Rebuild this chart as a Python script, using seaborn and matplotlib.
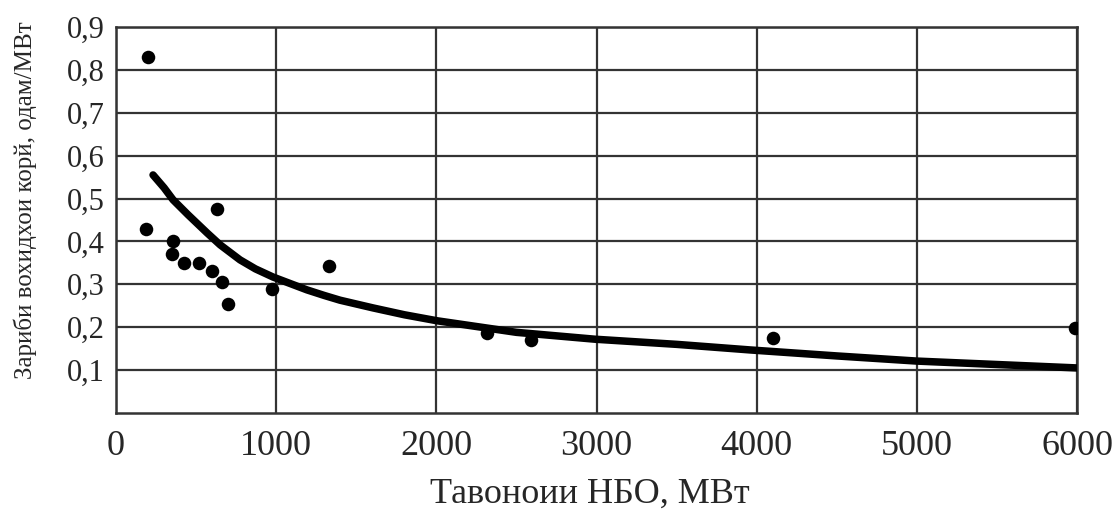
import matplotlib
matplotlib.use("Agg")
import matplotlib.pyplot as plt
import seaborn as sns
from matplotlib.ticker import FuncFormatter

# measured points
power_mw = [200, 187, 356, 350, 424, 518, 599, 662, 630, 699, 974, 1330, 2316, 2590, 4101, 5986]
staff_ratio = [0.83, 0.43, 0.40, 0.37, 0.35, 0.35, 0.33, 0.305, 0.475, 0.255, 0.29, 0.343, 0.186, 0.17, 0.175, 0.197]

# trend curve
trend_x = [231, 300, 356, 450, 568, 650, 774, 870, 980, 1100, 1192, 1300, 1398, 1604, 1800,
           2004, 2500, 2990, 3500, 3958, 4500, 5000, 5500, 6000]
trend_y = [0.555, 0.525, 0.497, 0.462, 0.42, 0.392, 0.357, 0.336, 0.317, 0.300, 0.287, 0.274,
           0.263, 0.245, 0.229, 0.215, 0.188, 0.172, 0.16, 0.147, 0.133, 0.121, 0.113, 0.105]

x_ticks = [0, 1000, 2000, 3000, 4000, 5000, 6000]
y_ticks = [0.1, 0.2, 0.3, 0.4, 0.5, 0.6, 0.7, 0.8, 0.9]

sns.set_style("white")
plt.rcParams["font.family"] = ["Liberation Serif", "DejaVu Serif"]

fig = plt.figure(figsize=(11.18, 5.12), dpi=100)
ax = fig.add_axes([0.1038, 0.1934, 0.8596, 0.7539])

sns.lineplot(x=trend_x, y=trend_y, ax=ax, color="black", linewidth=5.4,
             sort=False, estimator=None, zorder=3, solid_capstyle="round",
             solid_joinstyle="round")
sns.scatterplot(x=power_mw, y=staff_ratio, ax=ax, color="black", s=95,
                edgecolor="black", linewidth=0, zorder=4)

ax.set_xlim(0, 6000)
ax.set_ylim(0, 0.9)
ax.set_xticks(x_ticks)
ax.set_yticks(y_ticks)
ax.yaxis.set_major_formatter(FuncFormatter(lambda v, p: f"{v:.1f}".replace(".", ",")))

ax.grid(True, color="#333333", linewidth=1.6)
ax.set_axisbelow(True)
for sp in ax.spines.values():
    sp.set_color("#333333")
    sp.set_linewidth(1.8)

ax.tick_params(axis="x", length=0, pad=12, labelsize=26)
ax.tick_params(axis="y", length=0, pad=8, labelsize=22)

ax.set_xlabel("Тавоноии НБО, МВт", fontsize=26)
ax.set_ylabel("Зариби вохидхои корй, одам/МВт", fontsize=18)
ax.xaxis.set_label_coords(0.493, -0.21)
ax.xaxis.label.set_va("center")
ax.yaxis.set_label_coords(-0.095, 0.55)
ax.yaxis.label.set_va("center")

fig.savefig("out.png", dpi=100)
